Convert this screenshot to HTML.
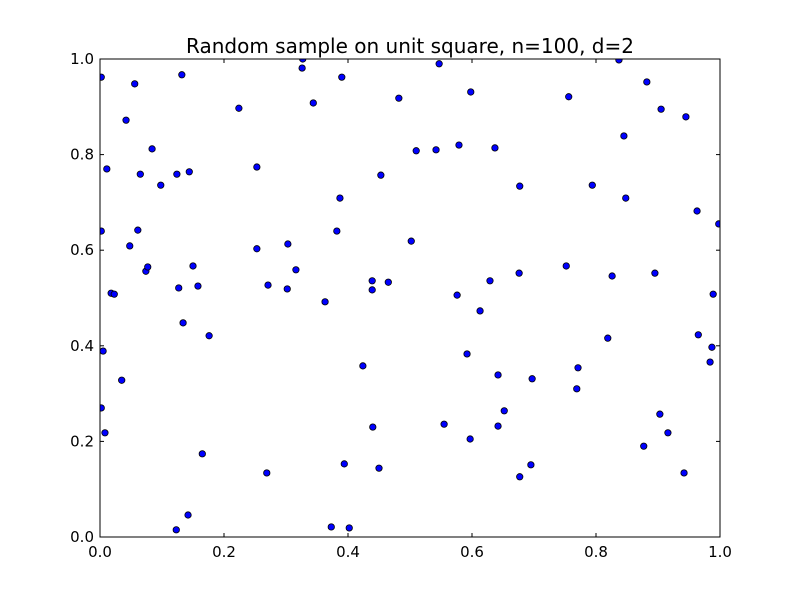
<!DOCTYPE html>
<html><head><meta charset="utf-8"><style>
html,body{margin:0;padding:0;background:#fff;}
svg{display:block;font-family:"DejaVu Sans","Liberation Sans",sans-serif;}
</style></head><body>
<svg id="chart" width="800" height="597" viewBox="0 0 800 597">
<defs><clipPath id="clip"><rect x="100" y="59" width="620" height="478"/></clipPath></defs>
<rect x="0" y="0" width="800" height="597" fill="#fff"/>
<text x="410" y="53" font-size="20" text-anchor="middle">Random sample on unit square, n=100, d=2</text>
<g id="points" clip-path="url(#clip)"></g>
<g id="ticks"></g>
<rect x="100" y="59" width="620" height="478" fill="none" stroke="#000" stroke-width="1"/>
</svg>
<script>
const xs = [0.002,0.011,0.002,0.018,0.023,0.005,0.002,0.008,0.035,0.042,0.056,0.065,0.061,0.048,0.074,0.077,0.084,0.098,0.123,0.124,0.127,0.132,0.134,0.142,0.144,0.150,0.158,0.165,0.176,0.224,0.253,0.253,0.269,0.271,0.302,0.303,0.316,0.326,0.327,0.344,0.363,0.373,0.382,0.387,0.390,0.394,0.402,0.424,0.439,0.439,0.440,0.450,0.453,0.465,0.482,0.502,0.510,0.542,0.547,0.555,0.576,0.579,0.592,0.598,0.597,0.613,0.629,0.637,0.642,0.642,0.652,0.677,0.677,0.676,0.695,0.697,0.752,0.756,0.769,0.771,0.794,0.819,0.826,0.837,0.845,0.848,0.877,0.882,0.895,0.903,0.905,0.916,0.945,0.942,0.963,0.965,0.989,0.987,0.984,0.998];
const ys = [0.962,0.770,0.640,0.510,0.508,0.389,0.270,0.218,0.328,0.872,0.948,0.759,0.642,0.609,0.556,0.565,0.812,0.736,0.015,0.759,0.521,0.967,0.448,0.046,0.764,0.567,0.525,0.174,0.421,0.897,0.774,0.603,0.134,0.527,0.519,0.613,0.559,0.981,1.000,0.908,0.492,0.021,0.640,0.709,0.962,0.153,0.019,0.358,0.536,0.517,0.230,0.144,0.757,0.533,0.918,0.619,0.808,0.810,0.990,0.236,0.506,0.820,0.383,0.931,0.205,0.473,0.536,0.814,0.339,0.232,0.264,0.734,0.126,0.552,0.151,0.331,0.567,0.921,0.310,0.354,0.736,0.416,0.546,0.998,0.839,0.709,0.190,0.952,0.552,0.257,0.895,0.218,0.879,0.134,0.682,0.423,0.508,0.397,0.366,0.655];
const xTicks = [0,0.2,0.4,0.6,0.8,1.0];
const yTicks = [0,0.2,0.4,0.6,0.8,1.0];
const xTickLabels = ["0.0","0.2","0.4","0.6","0.8","1.0"];
const yTickLabels = ["0.0","0.2","0.4","0.6","0.8","1.0"];

const NS = "http://www.w3.org/2000/svg";
const L = 100, R = 720, T = 59, B = 537;
function sx(v){ return L + (R - L) * v; }
function sy(v){ return B - (B - T) * v; }

const pg = document.getElementById('points');
for (let i = 0; i < xs.length; i++) {
  const c = document.createElementNS(NS, 'circle');
  c.setAttribute('cx', sx(xs[i]));
  c.setAttribute('cy', sy(ys[i]));
  c.setAttribute('r', 3.2);
  c.setAttribute('fill', '#0000ff');
  c.setAttribute('stroke', '#000');
  c.setAttribute('stroke-width', 0.8);
  
  
  pg.appendChild(c);
}

const tg = document.getElementById('ticks');
function line(x1,y1,x2,y2){
  const l = document.createElementNS(NS,'line');
  l.setAttribute('x1',x1);l.setAttribute('y1',y1);l.setAttribute('x2',x2);l.setAttribute('y2',y2);
  l.setAttribute('stroke','#000');l.setAttribute('stroke-width',1);
  
  
  tg.appendChild(l);
}
function text(x,y,s,anchor,name){
  const t = document.createElementNS(NS,'text');
  t.setAttribute('x',x);t.setAttribute('y',y);t.setAttribute('font-size',15);
  t.setAttribute('text-anchor',anchor);
  t.textContent = s;
  
  
  tg.appendChild(t);
}
xTicks.forEach((v,i)=>{
  const x = sx(v);
  line(x,B,x,B-4); line(x,T,x,T+4);
  text(x,B+20,xTickLabels[i],'middle','x-tick-label');
});
yTicks.forEach((v,i)=>{
  const y = sy(v);
  line(L,y,L+4,y); line(R,y,R-4,y);
  text(L-6,y+5,yTickLabels[i],'end','y-tick-label');
});
</script>
</body></html>
